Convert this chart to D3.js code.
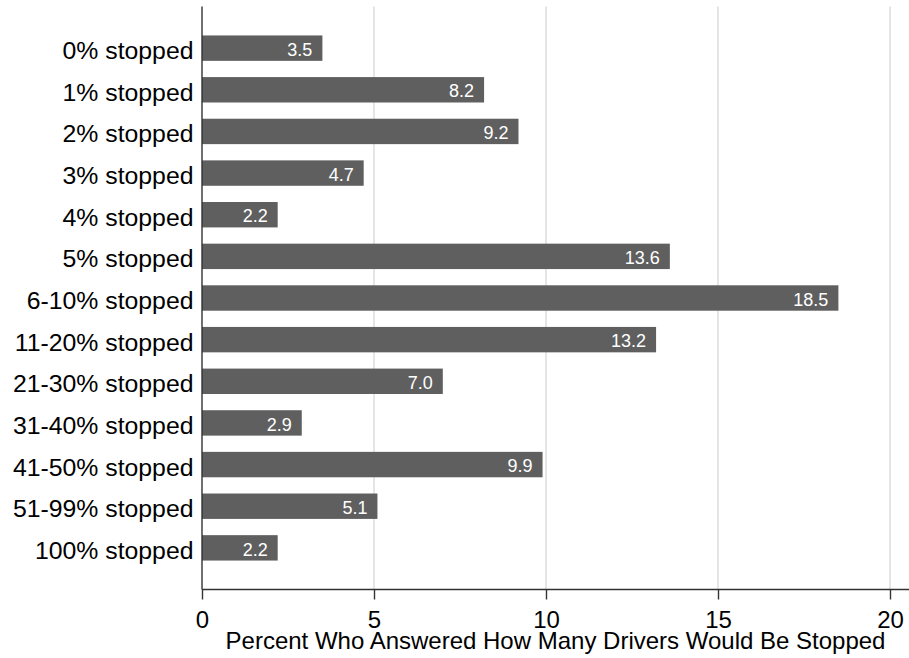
<!DOCTYPE html>
<html>
<head>
<meta charset="utf-8">
<script src="https://cdn.jsdelivr.net/npm/d3@7"></script>
<style>
  html, body { margin: 0; padding: 0; background: #fff; }
  svg { display: block; }
  text { font-family: "Liberation Sans", Arial, Helvetica, sans-serif; }
</style>
</head>
<body>
<svg id="chart" width="909" height="658"></svg>
<script>
const categories = ["0% stopped", "1% stopped", "2% stopped", "3% stopped", "4% stopped",
  "5% stopped", "6-10% stopped", "11-20% stopped", "21-30% stopped", "31-40% stopped",
  "41-50% stopped", "51-99% stopped", "100% stopped"];
const values = [3.5, 8.2, 9.2, 4.7, 2.2, 13.6, 18.5, 13.2, 7.0, 2.9, 9.9, 5.1, 2.2];
const xTicks = [0, 5, 10, 15, 20];
const xTitle = "Percent Who Answered How Many Drivers Would Be Stopped";

const svg = d3.select("#chart");
const mLeft = 202, mRight = 909, mTop = 6.5, mBottom = 589.5;

const x = d3.scaleLinear().domain([0, 20]).range([mLeft, 890]);
const y = d3.scalePoint().domain(categories).range([mTop, mBottom]).padding(1);
const barH = y.step() * 0.61;

// gridlines
svg.append("g").selectAll("line").data(xTicks.filter(d => d > 0)).join("line")
  .attr("x1", d => x(d)).attr("x2", d => x(d))
  .attr("y1", mTop).attr("y2", mBottom)
  .attr("stroke", "#dcdcdc").attr("stroke-width", 1.5);

// bars
svg.append("g").selectAll("rect").data(values).join("rect")
  .attr("x", x(0))
  .attr("y", (d, i) => y(categories[i]) - barH / 2)
  .attr("width", d => x(d) - x(0))
  .attr("height", barH)
  .attr("fill", "#5f5f5f");

// bar labels
svg.append("g").selectAll("text").data(values).join("text")
  .attr("x", d => x(d) - 10)
  .attr("y", (d, i) => y(categories[i]) + 7.7)
  .attr("text-anchor", "end")
  .attr("font-size", 18)
  .attr("fill", "#fff")
  .text(d => d.toFixed(1));

// y axis
const yAxis = d3.axisLeft(y).tickSize(0).tickPadding(8.5);
const gy = svg.append("g").attr("transform", `translate(${mLeft},0)`).call(yAxis);
gy.select(".domain").remove();
gy.selectAll("text").attr("font-size", 24.8).attr("fill", "#000")
  .attr("dy", null).attr("y", 10.5);
svg.append("line").attr("x1", mLeft).attr("x2", mLeft).attr("y1", mTop).attr("y2", mBottom)
  .attr("stroke", "#333").attr("stroke-width", 1.4);

// x axis
const xAxis = d3.axisBottom(x).tickValues(xTicks).tickSize(10).tickPadding(0).tickFormat(d3.format("d"));
const gx = svg.append("g").attr("transform", `translate(0,${mBottom})`).call(xAxis);
gx.select(".domain").remove();
gx.selectAll(".tick line").attr("stroke", "#333").attr("stroke-width", 1.4);
gx.selectAll("text").attr("font-size", 24).attr("fill", "#000")
  .attr("dy", null).attr("y", 38);
svg.append("line").attr("x1", mLeft).attr("x2", mRight).attr("y1", mBottom).attr("y2", mBottom)
  .attr("stroke", "#333").attr("stroke-width", 1.4);

// x title
svg.append("text")
  .attr("x", (mLeft + mRight) / 2)
  .attr("y", 649)
  .attr("text-anchor", "middle")
  .attr("font-size", 24)
  .attr("fill", "#000")
  .text(xTitle);
</script>
</body>
</html>
